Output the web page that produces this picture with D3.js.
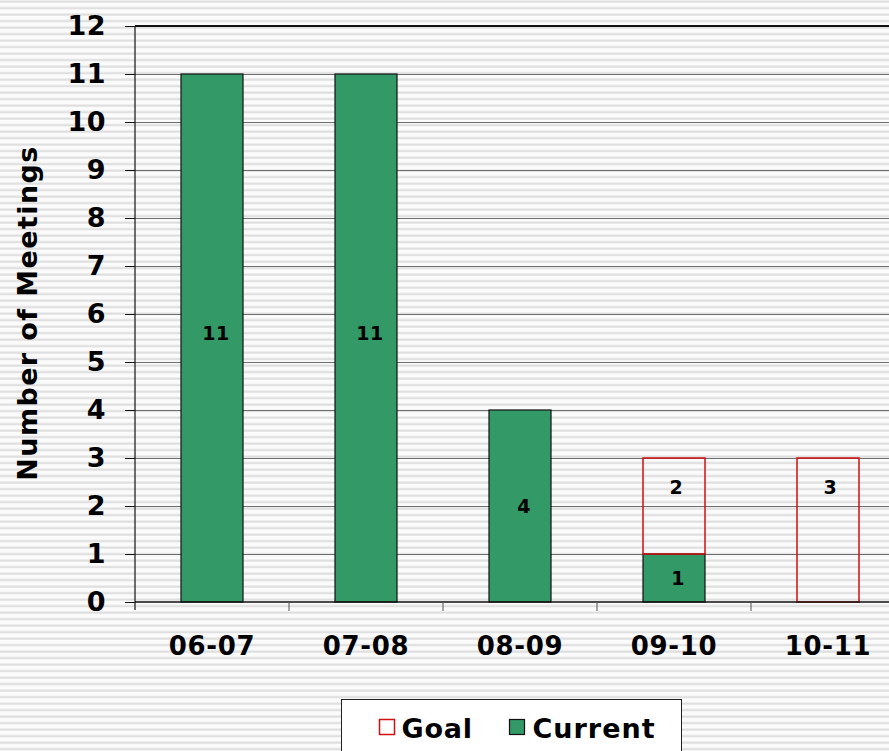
<!DOCTYPE html>
<html>
<head>
<meta charset="utf-8">
<script src="https://cdn.jsdelivr.net/npm/d3@7"></script>
<style>
  body { margin: 0; background: #fff; }
  svg { display: block; }
</style>
</head>
<body>
<svg id="chart"></svg>
<script>
const categories = ["06-07", "07-08", "08-09", "09-10", "10-11"];
const current = [11, 11, 4, 1, 0];
const goal = [0, 0, 0, 2, 3];
const yTicks = [0, 1, 2, 3, 4, 5, 6, 7, 8, 9, 10, 11, 12];

const width = 889, height = 751;
const margin = { top: 26, left: 135 };
const plotW = 770, plotH = 576;
const font = "'DejaVu Sans', Verdana, sans-serif";

const svg = d3.select("#chart").attr("width", width).attr("height", height);

// striped slide background
const defs = svg.append("defs");
const pat = defs.append("pattern")
  .attr("id", "stripes")
  .attr("patternUnits", "userSpaceOnUse")
  .attr("width", 10).attr("height", 6.5);
pat.append("rect").attr("width", 10).attr("height", 6.5).attr("fill", "#fbfbfb");
pat.append("rect").attr("y", 0.5).attr("width", 10).attr("height", 2.2).attr("fill", "#dfdfdf");
svg.append("rect").attr("width", width).attr("height", height).attr("fill", "url(#stripes)");

const x = d3.scaleBand().domain(categories).range([0, plotW]).paddingInner(0).paddingOuter(0);
const y = d3.scaleLinear().domain([0, 12]).range([plotH, 0]);
const barW = 62;

const g = svg.append("g").attr("transform", `translate(${margin.left},${margin.top})`);

// gridlines
g.append("g")
  .selectAll("line")
  .data(yTicks.filter(d => d > 0 && d < 12))
  .join("line")
  .attr("x1", 0).attr("x2", plotW)
  .attr("y1", d => Math.round(y(d)) + 0.5).attr("y2", d => Math.round(y(d)) + 0.5)
  .attr("stroke", "#6e6e6e").attr("stroke-width", 1);

// top border
g.append("line")
  .attr("x1", 0).attr("x2", plotW)
  .attr("y1", y(12)).attr("y2", y(12))
  .attr("stroke", "#111").attr("stroke-width", 2);

const data = categories.map((c, i) => ({ cat: c, current: current[i], goal: goal[i] }));

// current bars
g.append("g")
  .selectAll("rect")
  .data(data.filter(d => d.current > 0))
  .join("rect")
  .attr("x", d => x(d.cat) + (x.bandwidth() - barW) / 2)
  .attr("y", d => y(d.current))
  .attr("width", barW)
  .attr("height", d => y(0) - y(d.current))
  .attr("fill", "#339966")
  .attr("stroke", "#111")
  .attr("stroke-width", 1.2);

// goal bars (stacked on current)
g.append("g")
  .selectAll("rect")
  .data(data.filter(d => d.goal > 0))
  .join("rect")
  .attr("x", d => x(d.cat) + (x.bandwidth() - barW) / 2)
  .attr("y", d => y(d.current + d.goal))
  .attr("width", barW)
  .attr("height", d => y(d.current) - y(d.current + d.goal))
  .attr("fill", "none")
  .attr("stroke", "#d01010")
  .attr("stroke-width", 1.5);

// y axis
const yAxis = d3.axisLeft(y).tickValues(yTicks).tickSize(10).tickPadding(19).tickFormat(d3.format("d"));
const ya = g.append("g").call(yAxis);
ya.select(".domain").remove();
ya.selectAll(".tick line").attr("stroke", "#111");
ya.selectAll("text")
  .attr("font-family", font).attr("font-weight", "bold").attr("font-size", 27)
  .attr("letter-spacing", 0.5).attr("fill", "#000");
g.append("line")
  .attr("x1", 0).attr("x2", 0).attr("y1", 0).attr("y2", plotH + 8)
  .attr("stroke", "#111").attr("stroke-width", 1.2);

// x axis
g.append("line")
  .attr("x1", 0).attr("x2", plotW).attr("y1", plotH).attr("y2", plotH)
  .attr("stroke", "#111").attr("stroke-width", 1.5);
g.append("g")
  .selectAll("line")
  .data(categories.slice(1))
  .join("line")
  .attr("x1", d => x(d)).attr("x2", d => x(d))
  .attr("y1", plotH).attr("y2", plotH + 9)
  .attr("stroke", "#555");
g.append("g")
  .selectAll("text")
  .data(categories)
  .join("text")
  .attr("x", d => x(d) + x.bandwidth() / 2)
  .attr("y", plotH + 53)
  .attr("text-anchor", "middle")
  .attr("font-family", font).attr("font-weight", "bold").attr("font-size", 26)
  .attr("letter-spacing", 0.7)
  .text(d => d);

// y title
svg.append("text")
  .attr("transform", `translate(37,${313}) rotate(-90)`)
  .attr("text-anchor", "middle")
  .attr("font-family", font).attr("font-weight", "bold").attr("font-size", 27)
  .attr("letter-spacing", 1.4)
  .text("Number of Meetings");

// value labels
g.append("g")
  .selectAll("text")
  .data(data.filter(d => d.current > 0))
  .join("text")
  .attr("x", d => x(d.cat) + x.bandwidth() / 2 + 4)
  .attr("y", d => y(d.current / 2) - (d.current > 5 ? 5 : 0))
  .attr("dy", "0.35em")
  .attr("text-anchor", "middle")
  .attr("font-family", font).attr("font-weight", "bold").attr("font-size", 19)
  .attr("letter-spacing", 0.5)
  .text(d => d.current);
g.append("g")
  .selectAll("text")
  .data(data.filter(d => d.goal > 0))
  .join("text")
  .attr("x", d => x(d.cat) + x.bandwidth() / 2 + 2)
  .attr("y", d => y(d.current + d.goal) + 29)
  .attr("dy", "0.35em")
  .attr("text-anchor", "middle")
  .attr("font-family", font).attr("font-weight", "bold").attr("font-size", 19)
  .text(d => d.goal);

// legend
const lg = svg.append("g").attr("transform", "translate(341.5,699.5)");
lg.append("rect").attr("width", 340).attr("height", 70).attr("fill", "#fff").attr("stroke", "#222");
lg.append("rect").attr("x", 38).attr("y", 20).attr("width", 15).attr("height", 15)
  .attr("fill", "#fff").attr("stroke", "#d01010").attr("stroke-width", 1.5);
lg.append("text").attr("x", 60).attr("y", 38)
  .attr("font-family", font).attr("font-weight", "bold").attr("font-size", 27)
  .attr("letter-spacing", 0.8).text("Goal");
lg.append("rect").attr("x", 168).attr("y", 20).attr("width", 15).attr("height", 15)
  .attr("fill", "#339966").attr("stroke", "#111").attr("stroke-width", 1.2);
lg.append("text").attr("x", 191).attr("y", 38)
  .attr("font-family", font).attr("font-weight", "bold").attr("font-size", 27)
  .attr("letter-spacing", 1).text("Current");
</script>
</body>
</html>
